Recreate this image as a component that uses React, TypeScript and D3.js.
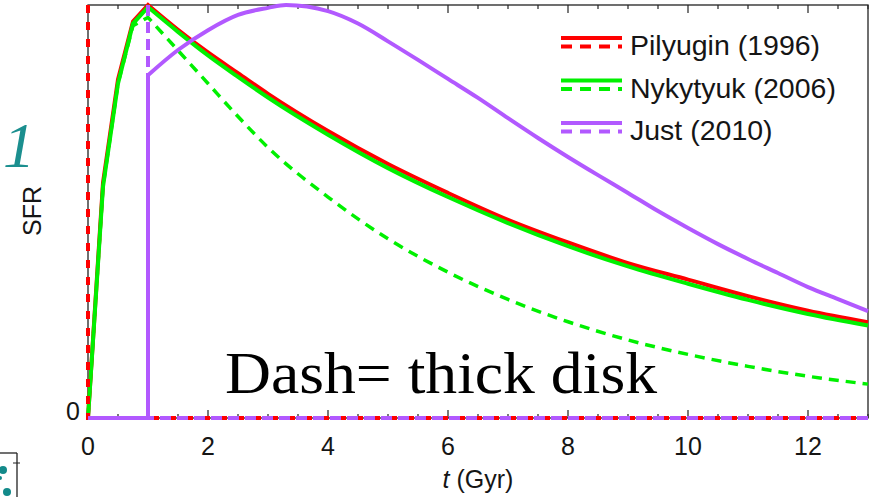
import React from "react";
import * as d3 from "d3";

// ---- data ----
const tThin = [0, 0.25, 0.5, 0.75, 1, 1.5, 2, 2.5, 3, 4, 5, 6, 7, 8, 9, 10, 11, 12, 13];
const pilyuginThin = [0, 0.57, 0.82, 0.96, 1.0, 0.94, 0.885, 0.835, 0.785, 0.695, 0.615, 0.545, 0.48, 0.425, 0.375, 0.335, 0.295, 0.26, 0.232];
const nykytyukThin = [0, 0.56, 0.81, 0.955, 0.995, 0.935, 0.878, 0.826, 0.776, 0.686, 0.605, 0.535, 0.472, 0.416, 0.367, 0.325, 0.286, 0.252, 0.224];
const nykytyukThick = [0, 0.56, 0.81, 0.95, 0.97, 0.89, 0.81, 0.73, 0.655, 0.535, 0.434, 0.353, 0.287, 0.233, 0.189, 0.154, 0.125, 0.101, 0.082];

const tJust = [0, 1, 1, 1.5, 2, 2.5, 3, 3.3, 4, 4.5, 5, 5.5, 6, 6.5, 7, 7.5, 8, 8.5, 9, 9.5, 10, 10.5, 11, 11.5, 12, 12.5, 13];
const justThin = [0, 0, 0.83, 0.891, 0.939, 0.976, 0.993, 1.0, 0.985, 0.955, 0.912, 0.867, 0.821, 0.775, 0.726, 0.678, 0.632, 0.588, 0.545, 0.501, 0.46, 0.421, 0.385, 0.351, 0.317, 0.288, 0.259];

const tPilyuginThick = [0, 0, 13];
const pilyuginThick = [1, 0, 0];
const tJustThick = [1, 1, 13];
const justThick = [1, 0, 0];

const xTicks = [0, 2, 4, 6, 8, 10, 12];
const legendNames = ["Pilyugin (1996)", "Nykytyuk (2006)", "Just (2010)"];
const legendColors = ["#ff0000", "#00f000", "#b259ff"];

export default function App() {
  const W = 874, H = 497;
  const x = d3.scaleLinear().domain([0, 13]).range([88, 868]);
  const y = d3.scaleLinear().domain([0, 1]).range([418, 5]);
  const line = d3.line<[number, number]>().x(d => x(d[0])).y(d => y(d[1]));
  const smooth = d3.line<[number, number]>().x(d => x(d[0])).y(d => y(d[1])).curve(d3.curveMonotoneX);
  const zip = (t: number[], v: number[]) => t.map((tt, i) => [tt, v[i]] as [number, number]);
  // rise drawn piecewise-linear (t<=1), decay smooth (t>=1)
  const thinPath = (t: number[], v: number[]) => {
    const pts = zip(t, v);
    const rise = pts.filter(p => p[0] <= 1);
    const fall = pts.filter(p => p[0] >= 1);
    return (line(rise) || "") + (smooth(fall) || "").replace(/^M/, "L");
  };
  const justPath = () => {
    const pts = zip(tJust, justThin);
    const head = pts.slice(0, 3);
    const tail = pts.slice(2);
    return (line(head) || "") + (smooth(tail) || "").replace(/^M/, "L");
  };

  const minor = d3.range(0, 13.01, 0.5);
  const sans = "'Liberation Sans', Arial, Helvetica, sans-serif";
  const [red, green, purple] = legendColors;

  return (
    <svg width={W} height={H} style={{ position: "absolute", left: 0, top: 0, background: "#fff" }}>
      {/* frame */}
      <rect x={x(0)} y={y(1)} width={x(13) - x(0)} height={y(0) - y(1)} fill="none" stroke="#222" strokeWidth={1.3} />
      {minor.map(t => {
        const major = Math.abs(t % 2) < 1e-9;
        const len = major ? 8 : 4;
        return (
          <g key={t}>
            <line x1={x(t)} x2={x(t)} y1={y(0)} y2={y(0) - len} stroke="#222" strokeWidth={1.2} />
            <line x1={x(t)} x2={x(t)} y1={y(1)} y2={y(1) + len} stroke="#222" strokeWidth={1.2} />
          </g>
        );
      })}
      {xTicks.map(t => (
        <text key={t} x={x(t)} y={455} textAnchor="middle" fontFamily={sans} fontSize={25} fill="#151515">{t}</text>
      ))}
      <text x={80} y={420} textAnchor="end" fontFamily={sans} fontSize={25} fill="#151515">0</text>
      <text transform="translate(41,211) rotate(-90)" textAnchor="middle" fontFamily={sans} fontSize={25} fill="#151515">SFR</text>
      <text x={478} y={488} textAnchor="middle" fontFamily={sans} fontSize={25} fill="#151515">
        <tspan fontStyle="italic">t</tspan> (Gyr)
      </text>

      {/* curves */}
      <path d={thinPath(tThin, nykytyukThick)} fill="none" stroke={green} strokeWidth={3.5} strokeDasharray="10,7" />
      <path d={thinPath(tThin, pilyuginThin)} fill="none" stroke={red} strokeWidth={4} />
      <path d={thinPath(tThin, nykytyukThin)} fill="none" stroke={green} strokeWidth={4} />
      <path d={line(zip(tPilyuginThick, pilyuginThick)) || ""} fill="none" stroke={red} strokeWidth={4} strokeDasharray="8,9" />
      <path d={justPath()} fill="none" stroke={purple} strokeWidth={4} />
      <path d={line(zip(tJustThick, justThick)) || ""} fill="none" stroke={purple} strokeWidth={4} strokeDasharray="11,6" />

      {/* legend */}
      {legendNames.map((name, i) => {
        const by = 38 + i * 42.5;
        return (
          <g key={name}>
            <line x1={561} x2={622} y1={by} y2={by} stroke={legendColors[i]} strokeWidth={4} />
            <line x1={561} x2={622} y1={by + 8.5} y2={by + 8.5} stroke={legendColors[i]} strokeWidth={4} strokeDasharray="11,8" />
            <text x={630} y={by + 17} fontFamily={sans} fontSize={28.5} fill="#151515">{name}</text>
          </g>
        );
      })}

      {/* annotations */}
      <text x={225} y={393} fontFamily="'Liberation Serif', 'Times New Roman', serif" fontSize={60} textLength={432} lengthAdjust="spacingAndGlyphs" fill="#000">Dash= thick disk</text>
      <text x={3} y={167} fontFamily="'Liberation Serif', 'Times New Roman', serif" fontStyle="italic" fontSize={64} fill="#1b8f8f">1</text>

      {/* fragment bottom-left */}
      <line x1={0} x2={17} y1={453} y2={453} stroke="#222" strokeWidth={1.3} />
      <line x1={17} x2={17} y1={453} y2={497} stroke="#222" strokeWidth={1.3} />
      <line x1={13} x2={20} y1={463} y2={463} stroke="#222" strokeWidth={1} />
      <circle cx={3} cy={470} r={4} fill="#138a8a" />
      <circle cx={7} cy={492} r={4} fill="#138a8a" />
      <circle cx={0} cy={478} r={2} fill="#138a8a" />
    </svg>
  );
}
